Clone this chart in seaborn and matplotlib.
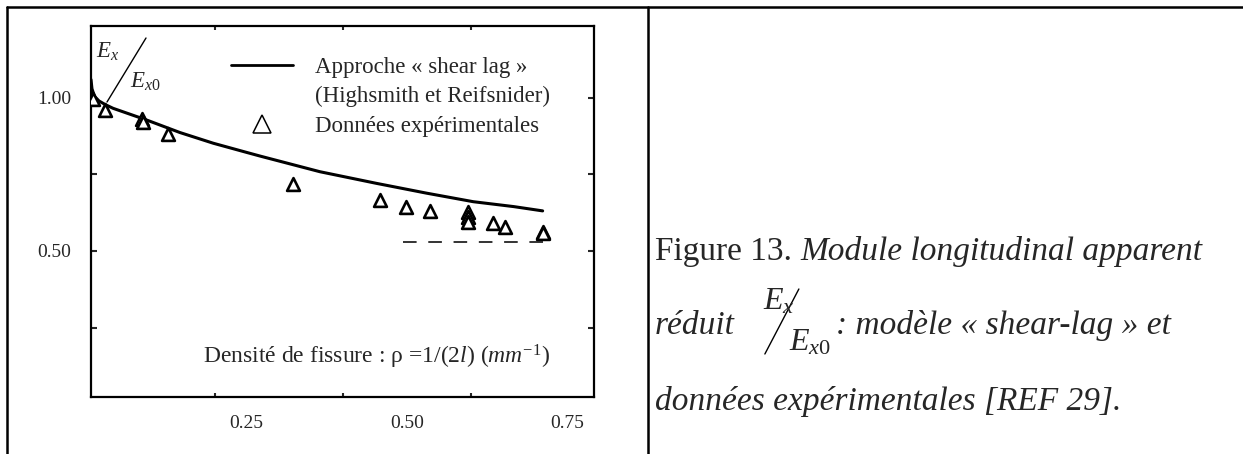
import matplotlib
matplotlib.use("Agg")
import matplotlib.pyplot as plt
import seaborn as sns
from matplotlib.lines import Line2D
from matplotlib.transforms import IdentityTransform

# shear-lag curve (Highsmith et Reifsnider)
curve_rho = [0.0075, 0.009, 0.013, 0.020, 0.030, 0.042, 0.094, 0.146, 0.198,
             0.250, 0.271, 0.364, 0.452, 0.530, 0.603, 0.666, 0.711]
curve_e = [1.060, 1.030, 1.005, 0.990, 0.978, 0.966, 0.928, 0.887, 0.852,
           0.822, 0.810, 0.759, 0.721, 0.689, 0.661, 0.645, 0.631]

# experimental points
exp_rho = [0.010, 0.029, 0.087, 0.089, 0.128, 0.322, 0.458, 0.498, 0.535,
           0.594, 0.594, 0.594, 0.634, 0.653, 0.711, 0.711]
exp_e = [0.998, 0.961, 0.930, 0.920, 0.881, 0.718, 0.667, 0.645, 0.631,
         0.628, 0.612, 0.596, 0.593, 0.577, 0.563, 0.558]

# dashed curve, mostly blanked out in the scan
hidden_rho = [0.493, 0.711]
hidden_e = [0.530, 0.530]

x_ticks = [0.25, 0.50, 0.75]
x_labels = ["0.25", "0.50", "0.75"]
y_ticks = [0.25, 0.50, 0.75, 1.00]
y_labels = ["", "0.50", "", "1.00"]

W, H = 1243, 454

sns.set_style("white")
plt.rcParams["font.family"] = ["Liberation Serif", "DejaVu Serif"]
plt.rcParams["mathtext.fontset"] = "custom"
plt.rcParams["mathtext.rm"] = "Liberation Serif"
plt.rcParams["mathtext.it"] = "Liberation Serif:italic"

fig = plt.figure(figsize=(W / 100, H / 100), dpi=100)
px = IdentityTransform()  # display pixels, origin bottom-left

# table borders of the document
for xs, ys in [([7, W], [H - 7, H - 7]), ([7, 7], [0, H - 7]), ([648, 648], [0, H - 7])]:
    fig.add_artist(Line2D(xs, ys, transform=px, color="black", lw=1.8))

ax = fig.add_axes([91 / W, (H - 397) / H, 503 / W, 371 / H])
sns.lineplot(x=curve_rho, y=curve_e, color="black", linewidth=2.2, ax=ax, sort=False)
ax.plot(hidden_rho, hidden_e, color="#333333", lw=1.4, dashes=(7, 6))
sns.scatterplot(x=exp_rho, y=exp_e, marker="^", s=85, facecolor="white",
                edgecolor="black", linewidth=1.9, ax=ax, zorder=3)

ax.set_xlim(0.0075, 0.791)
ax.set_ylim(0.023, 1.235)
ax.set_xticks(x_ticks)
ax.set_xticklabels(x_labels, fontsize=14)
ax.set_yticks(y_ticks)
ax.set_yticklabels(y_labels, fontsize=14)
ax.set_xticks([0.2, 0.4, 0.6], minor=True)
ax.tick_params(axis="x", which="major", direction="inout", length=12, width=1.2, pad=7)
ax.tick_params(axis="x", which="minor", direction="in", length=3, width=1.5, top=True, bottom=True)
ax.tick_params(axis="y", which="major", direction="in", length=4, width=1.5, pad=14,
               left=True, right=True)
for sp in ax.spines.values():
    sp.set_linewidth(1.6)
    sp.set_color("black")

# legend: line, second line of its label, then the triangle
legend_handles = [
    Line2D([], [], color="black", lw=2.0),
    Line2D([], [], ls="none"),
    Line2D([], [], marker="^", ls="none", mfc="white", mec="black", mew=1.1, ms=13),
]
legend_labels = ["Approche « shear lag »", "(Highsmith et Reifsnider)", "Données expérimentales"]
ax.legend(legend_handles, legend_labels, loc="upper left",
          bbox_to_anchor=((231 - 91) / 503, (397 - 57) / 371), frameon=False,
          fontsize=16.5, handlelength=2.7, handletextpad=0.95, labelspacing=0.36,
          borderpad=0, borderaxespad=0)

# axis titles written inside the frame
fig.text(108, H - 52, "$E_x$", fontsize=16.5, ha="center", va="center", transform=px)
fig.text(145, H - 82, "$E_{x0}$", fontsize=16.5, ha="center", va="center", transform=px)
fig.add_artist(Line2D([107, 146], [H - 102, H - 38], transform=px, color="black", lw=1.0))
fig.text(376, H - 357, "Densité de fissure : ρ =1/$\\mathit{(2l)}$ ($\\mathit{mm}^{\\mathrm{-1}}$)",
         fontsize=17, ha="center", va="center", transform=px)

# caption in the right cell
cap = 24
em = cap * 100 / 72
renderer = fig.canvas.get_renderer()


def put(x, y, s, style="italic", size=cap):
    t = fig.text(x, H - y, s, fontsize=size, style=style, va="baseline", transform=px)
    return t.get_window_extent(renderer).x1


x0 = 655
x = put(x0, 260, "Figure 13.", style="normal")
put(x + 0.25 * em, 260, "Module longitudinal apparent")

b2 = 334
x = put(x0, b2, "réduit") + 28
fig.text(x, H - (b2 - 0.75 * em), "$E_x$", fontsize=23, va="baseline", transform=px)
fig.add_artist(Line2D([x + 2, x + 36], [H - (b2 + 20), H - (b2 - 45)], transform=px,
                      color="black", lw=1.0))
fig.text(x + 26, H - (b2 + 0.5 * em), "$E_{x0}$", fontsize=23, va="baseline", transform=px)
put(x + 73, b2, ": modèle « shear-lag » et")

put(x0, 410, "données expérimentales [REF 29].")

fig.savefig("out.png", dpi=100)
